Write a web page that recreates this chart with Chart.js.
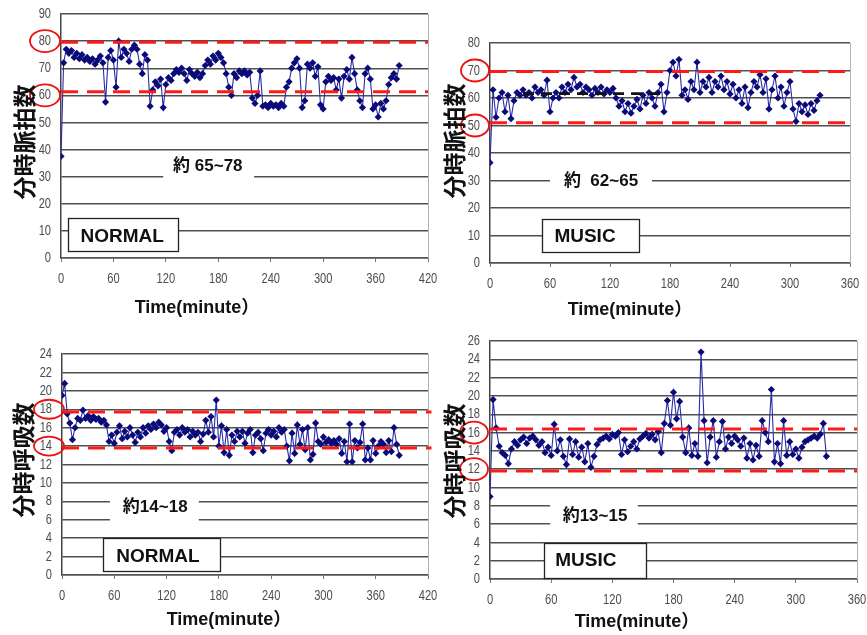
<!DOCTYPE html>
<html>
<head>
<meta charset="utf-8">
<script src="https://cdn.jsdelivr.net/npm/chart.js@4.4.0/dist/chart.umd.min.js"></script>
<style>
  html, body { margin:0; padding:0; background:#fff; width:867px; height:635px; overflow:hidden; }
  canvas { position:absolute; }
</style>
</head>
<body>
<canvas id="hrNormalChart"></canvas>
<canvas id="hrMusicChart"></canvas>
<canvas id="rrNormalChart"></canvas>
<canvas id="rrMusicChart"></canvas>
<script>
const SAMPLE_MIN = 3;

// heart rate, per minute - NORMAL
const hrNormal = [
  37.5,72,77,75.5,76.5,74,75.5,73.5,75,73,
  74,72.5,73.5,71.5,73,74.5,72,57.5,74,76.5,
  73,63,80,74,77,75.5,72.5,77,78.5,77,
  71.5,68,75,73,56,62,65,63.5,66,55.5,
  64,66.5,65.5,68,69.5,68.5,70,68,65.5,69.5,
  68,67,68.5,66.5,68,71,73,71.5,74.5,73,
  75.5,74,72,68,63,60,68,66.5,69,68,
  69,67.5,68.5,59,57,60,69,56,56.5,55.5,
  57,56,56.5,55.5,57,56,63,65,70,72,
  73.5,70,55.5,58,71.5,70,72,67,70.5,56.5,
  55,65,67,65.5,66.5,62,66,59,67,69.5,
  66,74,68,62,58,55.5,68,70,66,55,
  56.5,52,57,55,58,64,66.5,68,66,71
];
// heart rate - MUSIC
const hrMusic = [
  36.5,63,53,60,62,55,61,52.5,59,62,
  61,63,61,62,60,64,62,63,61,66.5,
  55,60,62,60,64,62,65,63,67.5,64,
  65,62,64,63,61,63.5,62,64,61.5,63,
  62,63.5,60,57,59,55,58,54.5,57,59.5,
  56,61,58,62,60,57,62,65,55,62,
  70,73,68,74,61,63,59.5,66,63,73,
  62,66,64,67.5,62,66,64,68,63,66,
  61.5,65,60,63,58,64,56.5,62,66,64,
  68.5,62,67,56,63,68,60,64,57,62,
  66,56,51.5,58,55,57.5,54,58,55.5,59,
  61
];
// respiration, per minute - NORMAL
const rrNormal = [
  19.5,20.8,17.5,16.5,14.7,16,17,16.8,17.9,17,
  17.3,16.8,17.2,16.9,17,16.6,16.8,16.3,14.5,15.2,
  14.3,15.5,16.2,14.8,15.6,15,16,15.2,14.4,15.5,
  15,16,15.4,16.2,15.8,16.4,16,16.6,16.3,15.6,
  16,14.5,13.5,15.5,15.8,15.2,16,15.5,15.8,15,
  15.6,15.2,15.5,14.5,15.3,16.8,15.5,17.2,15,19,
  14,16.2,13.3,15.8,13,15.2,14.5,15.6,15,15.6,
  14.3,15.4,15.8,13.3,15.2,15.5,14.8,13.5,15.4,15.8,
  15.2,15.6,15,16,15.5,15.8,14,12.4,15.4,13.2,
  16.3,14.2,15.8,13.6,16,12.5,13.1,16.5,14.5,14.2,
  15,14.4,14.7,14.3,14.6,14.2,14.8,13.2,14.5,12.3,
  16.4,12.3,14.6,13.8,14.4,16.4,12.5,13.8,12.5,14.6,
  13.2,14,14.5,14.2,13.3,14.6,13.4,16,14.2,13
];
// respiration - MUSIC
const rrMusic = [
  9,19.6,16.5,14.5,13.8,13.5,12.6,14.2,15,14.6,
  15.2,15.5,14.8,15.4,15.6,15.2,14.6,15,13.8,14.4,
  13.5,16.9,14,15.2,13.4,12.5,15.3,13.6,15,13.3,
  14.4,12.8,14.8,12.2,13.4,14.7,15.2,15.4,15.6,15.3,
  15.8,15.6,16,13.6,15.2,13.9,14.5,15,14.2,15.3,
  15.6,15.9,15.4,15.8,15.2,16.1,13.8,17,19.5,16.8,
  20.4,17.5,19.4,15.5,13.8,16.5,13.5,14.8,13.4,24.8,
  17.3,12.7,15.5,17.3,13.3,15,17.2,14.2,15.5,14.8,
  15.6,15.2,14.5,15.4,13.2,14.8,13,14.6,13.4,17.3,
  16,15,20.7,12.8,14.8,12.6,17.3,13.5,15,13.6,
  14.2,13.2,14.4,15,15.2,15.4,15.6,15.4,15.8,17,
  13.4
];

// red dashed range lines [upper, lower]
const hrNormalBand = [79.6, 61.3];
const hrMusicBand  = [69.6, 51];
const rrNormalBand = [17.7, 13.8];
const rrMusicBand  = [16.4, 11.8];
// black dashed mean line in the MUSIC heart-rate panel: [from, to, level]
const hrMusicMean = [33, 177, 61.6];

const SANS = '"Liberation Sans", Arial, "Noto Sans CJK JP", sans-serif';
const CJK  = '"Noto Sans CJK JP", "Noto Sans CJK SC", sans-serif';

const toPoints = vals => vals.map((v, i) => ({ x: i * SAMPLE_MIN, y: v }));

// narrow grey tick labels, squeezed like the original's condensed face
function narrowText(ctx, txt, px, py) {
  ctx.save();
  ctx.translate(px, py);
  ctx.scale(0.74, 1);
  ctx.fillText(txt, 0, 0);
  ctx.restore();
}

const decor = {
  id: 'decor',
  beforeDatasetsDraw(chart, _a, o) {
    const { ctx, chartArea: a, scales: { x, y } } = chart;
    ctx.save();
    ctx.strokeStyle = '#b4b4b4'; ctx.lineWidth = 1;
    ctx.beginPath(); ctx.moveTo(a.right + .5, a.top); ctx.lineTo(a.right + .5, a.bottom); ctx.stroke();

    // range note sitting on a white patch
    const n = o.note;
    const nx0 = x.getPixelForValue(n.from), nx1 = x.getPixelForValue(n.to);
    const ny0 = y.getPixelForValue(n.hi),   ny1 = y.getPixelForValue(n.lo);
    ctx.fillStyle = '#fff';
    ctx.fillRect(nx0, ny0, nx1 - nx0, ny1 - ny0);
    ctx.fillStyle = '#111';
    ctx.font = 'bold 17px ' + SANS;
    ctx.textAlign = 'center'; ctx.textBaseline = 'middle';
    ctx.fillText(n.text, x.getPixelForValue(n.at), y.getPixelForValue(n.v));

    // condition box
    const b = o.box;
    const bx0 = Math.round(x.getPixelForValue(b.from)) + .5, bx1 = Math.round(x.getPixelForValue(b.to)) + .5;
    const by0 = Math.round(y.getPixelForValue(b.hi)) + .5,   by1 = Math.round(y.getPixelForValue(b.lo)) + .5;
    ctx.fillStyle = '#fff';
    ctx.fillRect(bx0, by0, bx1 - bx0, by1 - by0);
    ctx.strokeStyle = '#222'; ctx.lineWidth = 1.3;
    ctx.strokeRect(bx0, by0, bx1 - bx0, by1 - by0);
    ctx.fillStyle = '#111';
    ctx.font = 'bold 19px ' + SANS;
    ctx.fillText(b.text, x.getPixelForValue(b.at), y.getPixelForValue(b.v) + 1);
    ctx.restore();
  },
  afterDraw(chart, _a, o) {
    const { ctx, chartArea: a, scales: { x, y } } = chart;
    ctx.save();
    // tick labels from the library's own tick lists
    ctx.fillStyle = '#4d4d4d';
    ctx.font = '15px ' + SANS;
    ctx.textBaseline = 'middle';
    ctx.textAlign = 'right';
    y.ticks.forEach(t => narrowText(ctx, t.label, a.left - 10, y.getPixelForValue(t.value)));
    ctx.textAlign = 'center';
    x.ticks.forEach(t => narrowText(ctx, t.label, x.getPixelForValue(t.value), a.bottom + 21));

    // red rings round the range tick labels
    ctx.strokeStyle = '#ee1111'; ctx.lineWidth = 1.8;
    o.rings.values.forEach(v => {
      ctx.beginPath();
      ctx.ellipse(a.left + o.rings.dx, y.getPixelForValue(v), o.rings.rx, o.rings.ry, 0, 0, Math.PI * 2);
      ctx.stroke();
    });
    // axis titles
    ctx.fillStyle = '#111';
    ctx.textAlign = 'center'; ctx.textBaseline = 'middle';
    ctx.font = 'bold 18px ' + SANS;
    ctx.fillText('Time(minute）', o.xTitle[0], o.xTitle[1]);
    ctx.translate(o.yTitle[0], o.yTitle[1]);
    ctx.rotate(-Math.PI / 2);
    ctx.font = 'bold 23px ' + CJK;
    ctx.fillText(o.yTitleText, 0, 0);
    ctx.restore();
  }
};

function refLine(from, to, level, color, dash, width) {
  return {
    type: 'line',
    data: [{ x: from, y: level }, { x: to, y: level }],
    borderColor: color, borderWidth: width, borderDash: dash,
    pointRadius: 0, clip: false, fill: false
  };
}

function makePanel(p) {
  const cv = document.getElementById(p.id);
  cv.width = p.w; cv.height = p.h;
  cv.style.left = p.left + 'px'; cv.style.top = p.top + 'px';

  const datasets = [
    refLine(0, p.xEnd, p.band[0], '#ff1a1a', [17, 9], 3),
    refLine(0, p.xEnd, p.band[1], '#ff1a1a', [17, 9], 3)
  ];
  if (p.mean) datasets.push(refLine(p.mean[0], p.mean[1], p.mean[2], '#111', [11, 7], 2.6));
  datasets.push({
    type: 'line',
    data: toPoints(p.values),
    borderColor: '#2a2aa6', borderWidth: 1.1,
    pointStyle: 'rectRot', pointRadius: 3.6,
    pointBackgroundColor: '#0a0a78', pointBorderColor: '#0a0a78', pointBorderWidth: 0,
    tension: 0, fill: false
  });

  return new Chart(cv, {
    type: 'line',
    data: { datasets },
    options: {
      responsive: false, animation: false, events: [],
      layout: { padding: { top: p.T - p.top, right: p.left + p.w - p.R, left: 0, bottom: 0 } },
      plugins: {
        legend: { display: false }, tooltip: { enabled: false },
        decor: {
          note: p.note, box: p.box, rings: p.rings,
          xTitle: [p.xTitle[0] - p.left, p.xTitle[1] - p.top],
          yTitle: [p.yTitle[0] - p.left, p.yTitle[1] - p.top],
          yTitleText: p.yTitleText
        }
      },
      scales: {
        x: {
          type: 'linear', min: 0, max: p.xMax,
          afterFit: s => { s.height = p.top + p.h - p.B; },
          ticks: { stepSize: 60, display: false, autoSkip: false, maxRotation: 0 },
          grid: { drawOnChartArea: false, drawTicks: true, tickLength: 4, color: '#777' },
          border: { color: '#555', width: 1.5 }
        },
        y: {
          min: 0, max: p.yMax,
          afterFit: s => { s.width = p.L - p.left; },
          ticks: { stepSize: p.yStep, display: false, autoSkip: false },
          grid: { color: '#505050', lineWidth: 1.4, drawTicks: false },
          border: { color: '#444', width: 1.5 }
        }
      }
    },
    plugins: [decor]
  });
}

makePanel({
  id: 'hrNormalChart', left: 0, top: 0, w: 442, h: 320, L: 61, T: 14, R: 428, B: 258,
  xMax: 420, xEnd: 420, yMax: 90, yStep: 10, values: hrNormal, band: hrNormalBand,
  note: { text: '約 65~78', at: 168, v: 34, from: 117, to: 221, hi: 37.5, lo: 28.5 },
  box:  { text: 'NORMAL', at: 70, v: 8.1, from: 8, to: 134, hi: 14.8, lo: 2.6 },
  rings: { values: [80, 60], dx: -16, rx: 15, ry: 11 },
  xTitle: [197, 308], yTitle: [24, 142], yTitleText: '分時脈拍数'
});
makePanel({
  id: 'hrMusicChart', left: 430, top: 20, w: 437, h: 300, L: 490, T: 43, R: 850, B: 263,
  xMax: 360, xEnd: 360, yMax: 80, yStep: 10, values: hrMusic, band: hrMusicBand, mean: hrMusicMean,
  note: { text: '約  62~65', at: 111, v: 29.8, from: 60, to: 162, hi: 34, lo: 26 },
  box:  { text: 'MUSIC', at: 95, v: 9.8, from: 52, to: 149, hi: 16, lo: 4 },
  rings: { values: [70, 50], dx: -15, rx: 14, ry: 11 },
  xTitle: [630, 310], yTitle: [454, 141], yTitleText: '分時脈拍数'
});
makePanel({
  id: 'rrNormalChart', left: 0, top: 330, w: 442, h: 305, L: 62, T: 354, R: 428, B: 575,
  xMax: 420, xEnd: 424, yMax: 24, yStep: 2, values: rrNormal, band: rrNormalBand,
  note: { text: '約14~18', at: 107, v: 7.4, from: 55, to: 157, hi: 8.8, lo: 5.3 },
  box:  { text: 'NORMAL', at: 110, v: 2.1, from: 47, to: 181, hi: 4.0, lo: 0.4 },
  rings: { values: [18, 14], dx: -13, rx: 15, ry: 9.5 },
  xTitle: [229, 620], yTitle: [23, 460], yTitleText: '分時呼吸数'
});
makePanel({
  id: 'rrMusicChart', left: 430, top: 325, w: 437, h: 310, L: 490, T: 341, R: 857, B: 579,
  xMax: 360, xEnd: 360, yMax: 26, yStep: 2, values: rrMusic, band: rrMusicBand,
  note: { text: '約13~15', at: 103, v: 6.8, from: 59, to: 145, hi: 9, lo: 5.4 },
  box:  { text: 'MUSIC', at: 94, v: 2.1, from: 53, to: 153, hi: 3.9, lo: 0.1 },
  rings: { values: [16, 12], dx: -16, rx: 14, ry: 11 },
  xTitle: [637, 622], yTitle: [454, 461], yTitleText: '分時呼吸数'
});
</script>
</body>
</html>
